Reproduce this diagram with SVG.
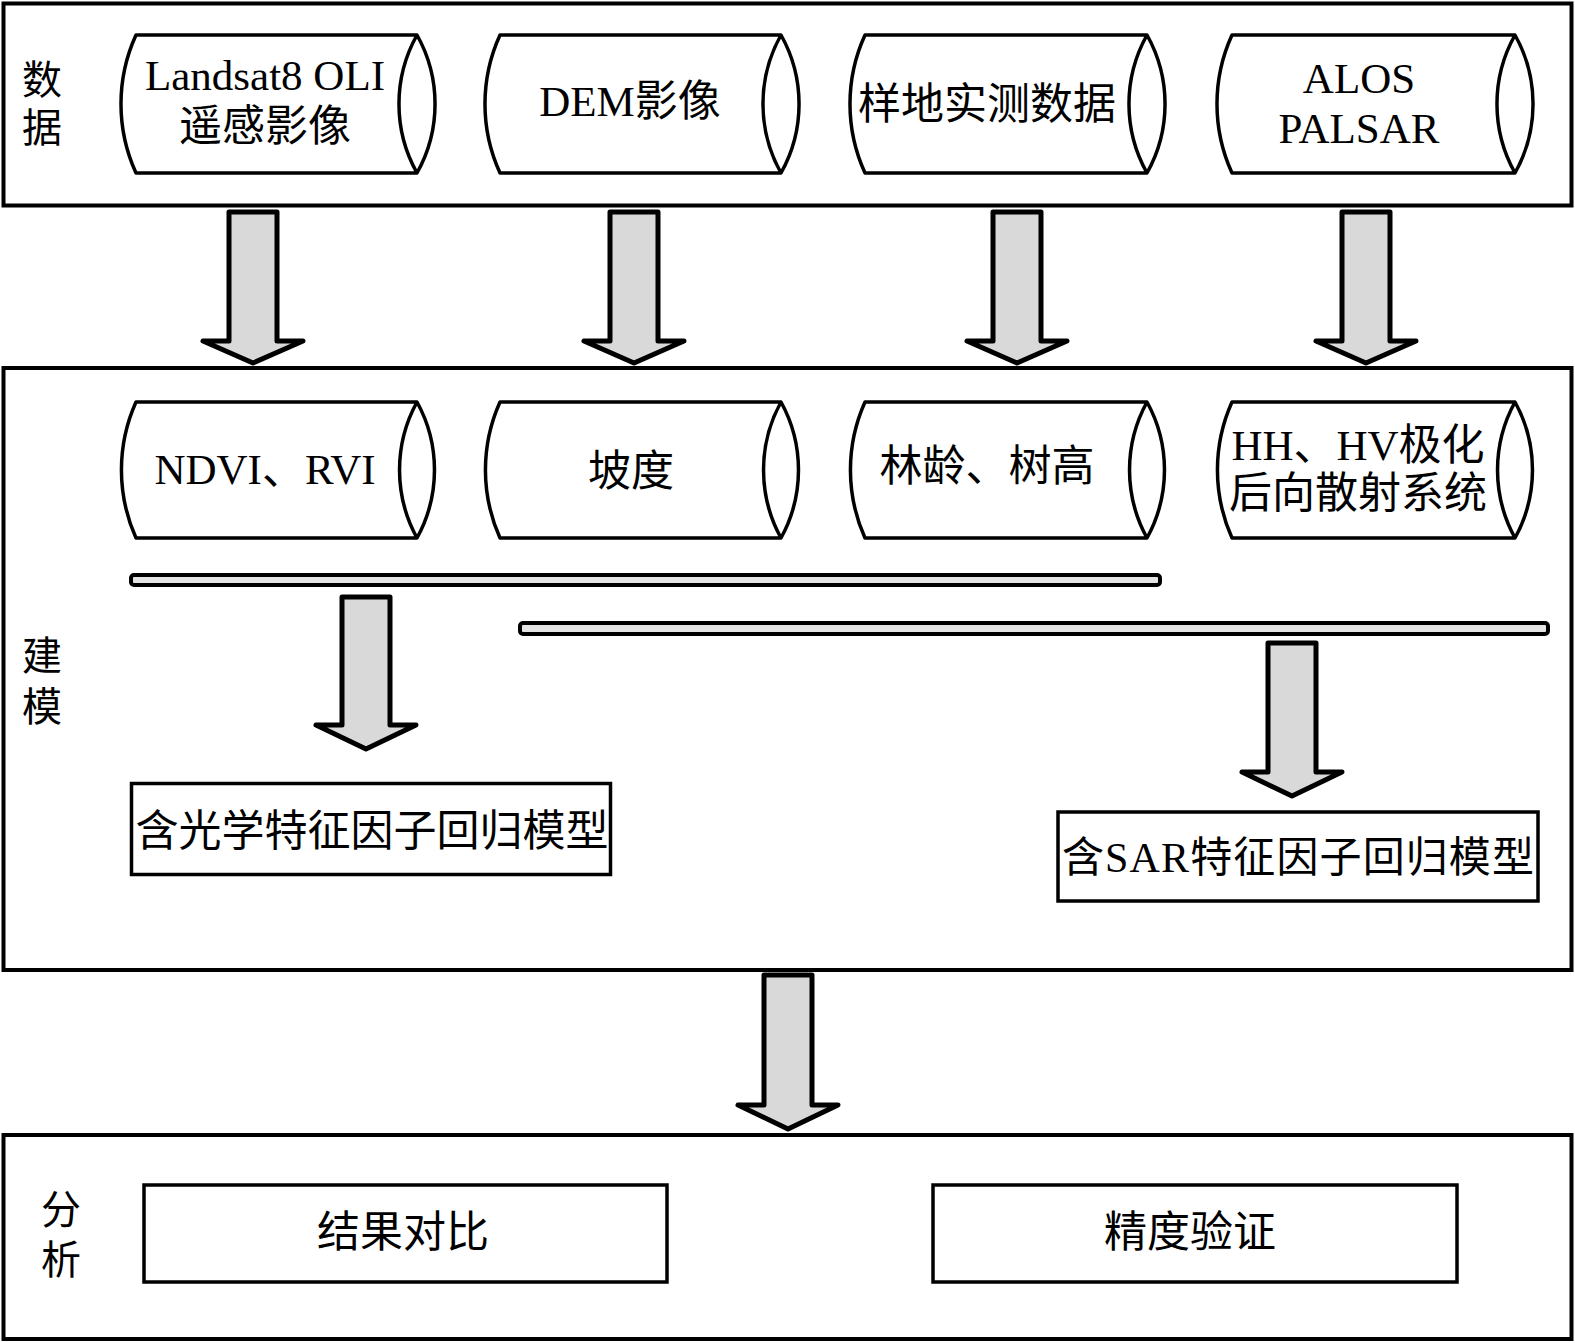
<svg xmlns="http://www.w3.org/2000/svg" width="1575" height="1343" viewBox="0 0 1575 1343">
<style>
.sec{fill:#fff;stroke:#000;stroke-width:4}
.cyl{fill:#fff;stroke:#000;stroke-width:3.5;stroke-linejoin:round}
.box{fill:#fff;stroke:#000;stroke-width:3.5}
.arr{fill:#d9d9d9;stroke:#000;stroke-width:5;stroke-linejoin:round}
.bar{fill:#e4e4e4;stroke:#000;stroke-width:4}
text{font-family:"Liberation Serif","Noto Sans CJK SC",serif;font-size:43px;fill:#000;text-anchor:middle}
.side{font-size:40px}
</style>
<rect width="1575" height="1343" fill="#fff"/>
<g id="section-data">
<rect class="sec" x="3.5" y="3.5" width="1568" height="202"/>
<text class="side" x="42" y="94">数</text>
<text class="side" x="42" y="142">据</text>
</g>
<g id="section-model">
<rect class="sec" x="3.5" y="368" width="1568" height="602"/>
<text class="side" x="42" y="670">建</text>
<text class="side" x="42" y="721">模</text>
</g>
<g id="section-analysis">
<rect class="sec" x="3.5" y="1135" width="1568" height="204"/>
<text class="side" x="61" y="1224">分</text>
<text class="side" x="61" y="1274">析</text>
</g>
<g id="landsat">
<path class="cyl" d="M136,35 L417,35 A141,141 0 0 1 417,173 L136,173 A166,166 0 0 1 136,35 Z M417,173 A141,141 0 0 1 417,35"/>
<text x="265" y="90">Landsat8 OLI</text>
<text x="265" y="141">遥感影像</text>
</g>
<g id="dem">
<path class="cyl" d="M500,35 L781,35 A141,141 0 0 1 781,173 L500,173 A166,166 0 0 1 500,35 Z M781,173 A141,141 0 0 1 781,35"/>
<text x="630" y="116">DEM影像</text>
</g>
<g id="field">
<path class="cyl" d="M865,35 L1147,35 A141,141 0 0 1 1147,173 L865,173 A166,166 0 0 1 865,35 Z M1147,173 A141,141 0 0 1 1147,35"/>
<text x="987" y="119">样地实测数据</text>
</g>
<g id="alos">
<path class="cyl" d="M1232,35 L1515,35 A141,141 0 0 1 1515,173 L1232,173 A166,166 0 0 1 1232,35 Z M1515,173 A141,141 0 0 1 1515,35"/>
<text x="1359" y="93">ALOS</text>
<text x="1359" y="143">PALSAR</text>
</g>
<g id="ndvi">
<path class="cyl" d="M136,402 L417,402 A141,141 0 0 1 417,538 L136,538 A166,166 0 0 1 136,402 Z M417,538 A141,141 0 0 1 417,402"/>
<text x="265" y="484">NDVI、RVI</text>
</g>
<g id="slope">
<path class="cyl" d="M500,402 L781,402 A141,141 0 0 1 781,538 L500,538 A166,166 0 0 1 500,402 Z M781,538 A141,141 0 0 1 781,402"/>
<text x="631" y="486">坡度</text>
</g>
<g id="age-height">
<path class="cyl" d="M865,402 L1147,402 A141,141 0 0 1 1147,538 L865,538 A166,166 0 0 1 865,402 Z M1147,538 A141,141 0 0 1 1147,402"/>
<text x="987" y="481">林龄、树高</text>
</g>
<g id="backscatter">
<path class="cyl" d="M1232,402 L1515,402 A141,141 0 0 1 1515,538 L1232,538 A166,166 0 0 1 1232,402 Z M1515,538 A141,141 0 0 1 1515,402"/>
<text x="1358" y="460">HH、HV极化</text>
<text x="1358" y="508">后向散射系统</text>
</g>
<g id="optical-model">
<rect class="box" x="131.5" y="783.5" width="479" height="91"/>
<text x="372" y="846">含光学特征因子回归模型</text>
</g>
<g id="sar-model">
<rect class="box" x="1058" y="812" width="480" height="89"/>
<text x="1298" y="872" style="font-size:42px" textLength="472">含SAR特征因子回归模型</text>
</g>
<g id="compare">
<rect class="box" x="144" y="1185" width="523" height="97"/>
<text x="403" y="1247">结果对比</text>
</g>
<g id="accuracy">
<rect class="box" x="933" y="1185" width="524" height="97"/>
<text x="1190" y="1247">精度验证</text>
</g>
<g id="connectors">
<path class="arr" d="M229,212 L277,212 L277,341 L303,341 L253,363 L203,341 L229,341 Z"/>
<path class="arr" d="M610,212 L658,212 L658,341 L684,341 L634,363 L584,341 L610,341 Z"/>
<path class="arr" d="M993,212 L1041,212 L1041,341 L1067,341 L1017,363 L967,341 L993,341 Z"/>
<path class="arr" d="M1342,212 L1390,212 L1390,341 L1416,341 L1366,363 L1316,341 L1342,341 Z"/>
<rect class="bar" x="131" y="575" width="1029" height="10" rx="3"/>
<rect class="bar" x="520" y="623" width="1028" height="11" rx="3"/>
<path class="arr" d="M342,597 L390,597 L390,725 L416,725 L366,749 L316,725 L342,725 Z"/>
<path class="arr" d="M1268,643 L1316,643 L1316,772 L1342,772 L1292,796 L1242,772 L1268,772 Z"/>
<path class="arr" d="M764,975 L812,975 L812,1105 L838,1105 L788,1129 L738,1105 L764,1105 Z"/>
</g>
</svg>
